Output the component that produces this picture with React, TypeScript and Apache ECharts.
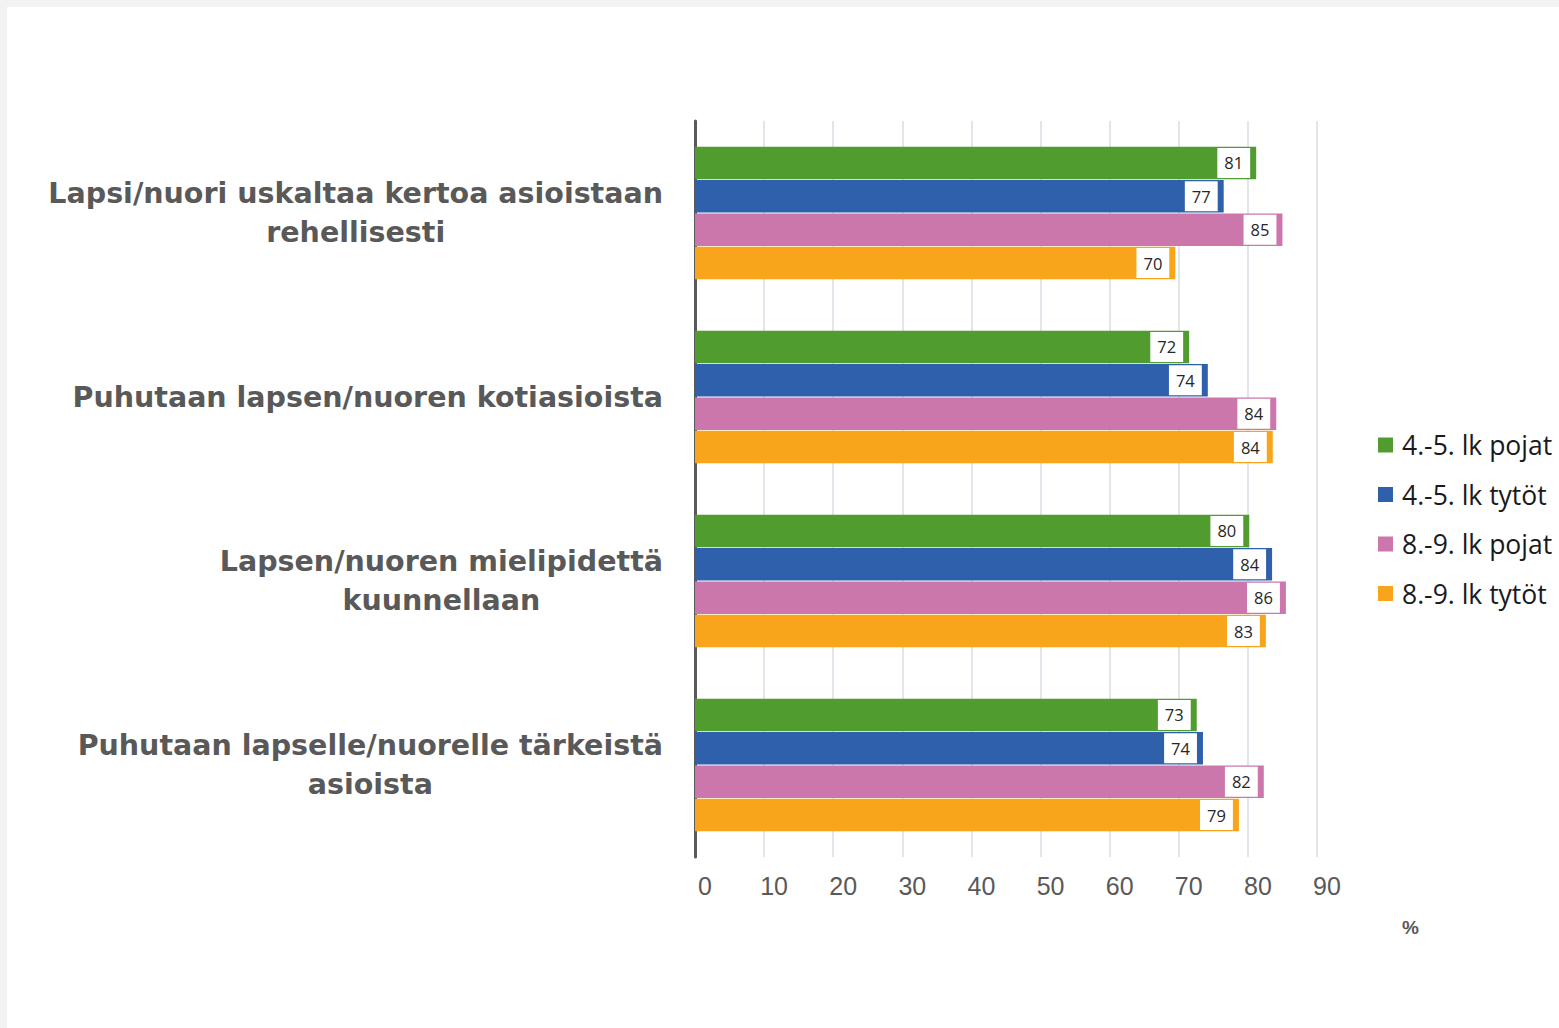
import React, { useEffect, useRef } from "react";
import * as echarts from "echarts";

const categories = [
  "Lapsi/nuori uskaltaa kertoa asioistaan\nrehellisesti",
  "Puhutaan lapsen/nuoren kotiasioista",
  "Lapsen/nuoren mielipidettä\nkuunnellaan",
  "Puhutaan lapselle/nuorelle tärkeistä\nasioista",
];
const seriesNames = ["4.-5. lk pojat", "4.-5. lk tytöt", "8.-9. lk pojat", "8.-9. lk tytöt"];
// values; labels show them rounded
const boys45 = [81.2, 71.5, 80.2, 72.6];
const girls45 = [76.5, 74.2, 83.5, 73.5];
const boys89 = [85.0, 84.1, 85.5, 82.3];
const girls89 = [69.5, 83.6, 82.6, 78.7];
const seriesValues = [boys45, girls45, boys89, girls89];
const colors = ["#519C2F", "#2F60AC", "#CB77AB", "#F8A51B"];
const xTicks = { min: 0, max: 90, interval: 10 };
const unitLabel = "%";

export default function App() {
  const ref = useRef<HTMLDivElement>(null);
  useEffect(() => {
    if (!ref.current) return;
    const chart = echarts.init(ref.current, undefined, { renderer: "svg" });
    chart.setOption({
      animation: false,
      color: colors,
      grid: { left: 688, top: 114, right: 242, bottom: 171, containLabel: false },
      legend: {
        orient: "vertical",
        left: 1366,
        top: 418,
        itemWidth: 15,
        itemHeight: 15,
        itemGap: 19.5,
        icon: "rect",
        textStyle: {
          fontFamily: "Open Sans",
          fontSize: 26.5,
          color: "#1a1a1a",
          lineHeight: 30,
          padding: [0, 0, 0, 4],
        },
        data: seriesNames,
      },
      xAxis: {
        type: "value",
        min: xTicks.min,
        max: xTicks.max,
        interval: xTicks.interval,
        axisLine: { show: false },
        axisTick: { show: false },
        splitLine: { show: true, lineStyle: { color: "#d9dde4", width: 1.5 } },
        axisLabel: {
          fontFamily: "Liberation Sans",
          fontSize: 25,
          color: "#595959",
          margin: 16,
          padding: [0, 0, 0, 20],
        },
      },
      yAxis: {
        type: "category",
        inverse: true,
        data: categories,
        axisLine: { show: true, lineStyle: { color: "#595959", width: 3 } },
        axisTick: { show: false },
        axisLabel: {
          margin: 32,
          align: "right",
          formatter: (v: string) => `{c|${v}}`,
          rich: {
            c: {
              align: "center",
              fontFamily: "DejaVu Sans",
              fontWeight: "bold",
              fontSize: 28.5,
              lineHeight: 39,
              color: "#595959",
            },
          },
        },
      },
      graphic: [
        {
          type: "text",
          left: 1395,
          top: 911,
          style: {
            text: unitLabel,
            font: "bold 19px 'Liberation Sans'",
            fill: "#595959",
          },
        },
      ],
      series: seriesNames.map((name, i) => ({
        name,
        type: "bar",
        data: seriesValues[i],
        barCategoryGap: "28%",
        barGap: "3%",
        itemStyle: { color: colors[i] },
        label: {
          show: true,
          position: "insideRight",
          distance: 6,
          formatter: (p: any) => String(Math.round(p.value)),
          fontFamily: "Open Sans",
          fontSize: 16.5,
          lineHeight: 18,
          color: "#262626",
          backgroundColor: "#ffffff",
          padding: [6, 7],
        },
      })),
    });
    return () => chart.dispose();
  }, []);
  return (
    <div style={{ position: "fixed", left: 0, top: 0, width: 1559, height: 1028, background: "#f2f2f2" }}>
      <div
        ref={ref}
        style={{ position: "absolute", left: 7, top: 7, width: 1552, height: 1021, background: "#ffffff" }}
      />
    </div>
  );
}
